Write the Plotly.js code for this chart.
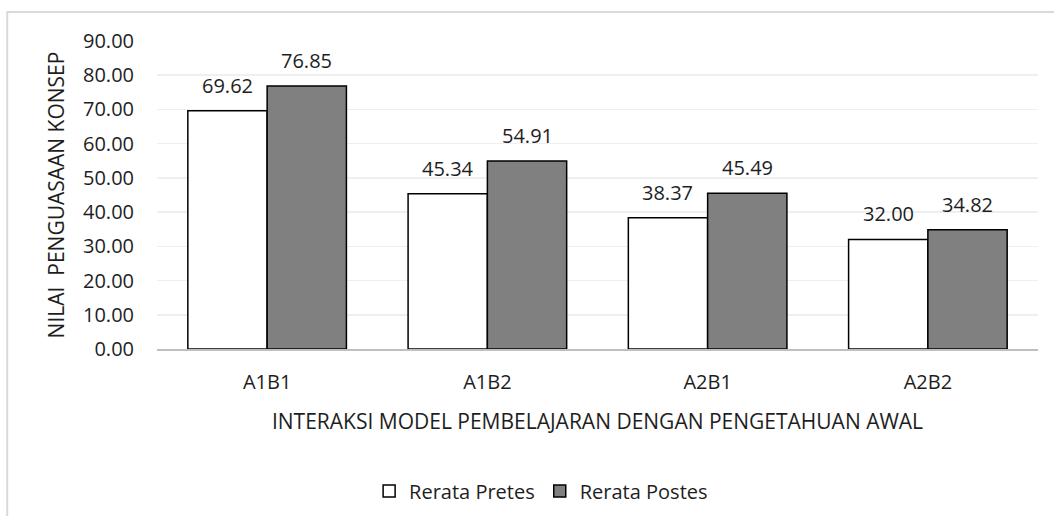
<!DOCTYPE html>
<html><head><meta charset="utf-8">
<script src="https://cdn.plot.ly/plotly-3.0.1.min.js"></script>
<style>html,body{margin:0;padding:0;background:#fff;}#chart{width:1054px;height:516px;}</style>
</head><body><div id="chart"></div>
<script>
const categories = ["A1B1", "A1B2", "A2B1", "A2B2"];
const pretes = [69.62, 45.34, 38.37, 32.00];
const postes = [76.85, 54.91, 45.49, 34.82];
const seriesNames = ["Rerata Pretes", "Rerata Postes"];
const xTitle = "INTERAKSI MODEL PEMBELAJARAN DENGAN PENGETAHUAN AWAL";
const yTitle = "NILAI  PENGUASAAN KONSEP";

const FONT = "Open Sans, Noto Sans, sans-serif";
const traces = [
  {type:"bar", name:seriesNames[0], x:categories, y:pretes,
   marker:{color:"#ffffff", line:{color:"#000000", width:1.5}}},
  {type:"bar", name:seriesNames[1], x:categories, y:postes,
   marker:{color:"#808080", line:{color:"#000000", width:1.5}}}
];
const annotations = [];
[pretes, postes].forEach((arr, s) => {
  arr.forEach((v, i) => {
    annotations.push({x: i + (s === 0 ? -0.18 : 0.18), y: v, xref:"x", yref:"y",
      text: v.toFixed(2), showarrow:false, yanchor:"bottom", yshift:10,
      font:{family:FONT, size:20, color:"#1e1e1e"}});
  });
});
const layout = {
  width:1054, height:516,
  margin:{l:157, r:16, t:41, b:167, autoexpand:false},
  paper_bgcolor:"#fff", plot_bgcolor:"#fff",
  barmode:"group", bargap:0.28, bargroupgap:0,
  font:{family:FONT, size:20, color:"#1e1e1e"},
  xaxis:{type:"category", showgrid:false, showline:true, linecolor:"#bfbfbf", linewidth:2,
    ticks:"", tickfont:{size:20}, ticklabelstandoff:14, automargin:false,
    title:{text:xTitle, font:{size:21}, standoff:20}},
  yaxis:{range:[0,90], dtick:10, tickformat:".2f", showgrid:true, gridcolor:"#efefef", gridwidth:1.5,
    zeroline:false, showline:false, ticks:"", tickfont:{size:20}, ticklabelstandoff:22, automargin:false,
    title:{text:yTitle, font:{size:21}, standoff:12}},
  legend:{orientation:"h", x:0.436, xanchor:"center", y:-0.461, yanchor:"middle",
    font:{size:20}, itemwidth:30, traceorder:"normal"},
  annotations: annotations,
  shapes:[{type:"rect", xref:"paper", yref:"paper", x0:-0.170, x1:1.2, y0:-0.7, y1:1.094,
    line:{color:"#d9d9d9", width:2}, fillcolor:"rgba(0,0,0,0)"}],
  showlegend:true
};
Plotly.newPlot("chart", traces, layout, {displayModeBar:false, staticPlot:true});
</script></body></html>
